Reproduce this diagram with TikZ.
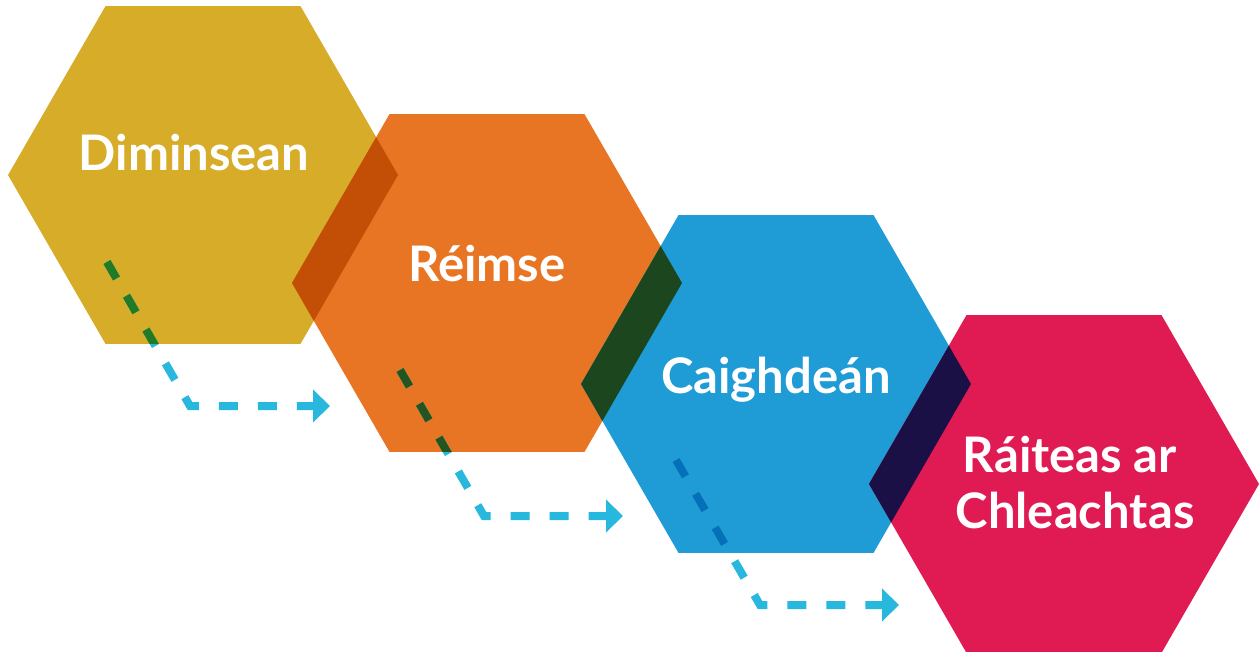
\documentclass[tikz,border=0pt]{standalone}
\usepackage{fontspec}
\setmainfont{Lato}
\usetikzlibrary{arrows.meta}
\definecolor{hexgold}{RGB}{214,172,41}
\definecolor{hexorange}{RGB}{232,117,36}
\definecolor{hexblue}{RGB}{31,155,214}
\definecolor{hexred}{RGB}{224,27,84}
\definecolor{ovgo}{RGB}{195,79,6}
\definecolor{ovob}{RGB}{28,71,30}
\definecolor{ovbr}{RGB}{27,16,70}
\definecolor{flowcyan}{RGB}{40,183,221}
\definecolor{flowgold}{RGB}{34,123,36}
\definecolor{floworange}{RGB}{36,84,31}
\definecolor{flowblue}{RGB}{5,111,186}
\newcommand{\hexa}[2]{(#1-195,#2)--++(97.5,-168.9)--++(195,0)--++(97.5,168.9)--++(-97.5,168.9)--++(-195,0)--cycle}
\begin{document}
\begin{tikzpicture}[x=1pt,y=-1pt,
 flow/.style={line width=8pt,dash pattern=on 19pt off 20pt},
 lbl/.style={text=white,font=\fontsize{49}{56}\selectfont\bfseries,anchor=base,inner sep=0pt}]
\useasboundingbox (0,0) rectangle (1259,652);
\fill[hexgold]\hexa{203}{175};
\fill[hexorange]\hexa{487}{283};
\fill[hexblue]\hexa{776}{384};
\fill[hexred]\hexa{1064}{484};
\begin{scope}\clip\hexa{203}{175};\fill[ovgo]\hexa{487}{283};\end{scope}
\begin{scope}\clip\hexa{487}{283};\fill[ovob]\hexa{776}{384};\end{scope}
\begin{scope}\clip\hexa{776}{384};\fill[ovbr]\hexa{1064}{484};\end{scope}
% flow arrows
\coordinate (a1s) at (107,262);\coordinate (a1c) at (190,406);\coordinate (a1e) at (330,406);
\coordinate (a2s) at (400,370);\coordinate (a2c) at (484,516);\coordinate (a2e) at (623,516);
\coordinate (a3s) at (676,460);\coordinate (a3c) at (760,605);\coordinate (a3e) at (899,605);
\draw[flow,flowcyan,-{Triangle[length=17pt,width=32pt]}](a1s)--(a1c)--(a1e);
\draw[flow,flowcyan,-{Triangle[length=17pt,width=32pt]}](a2s)--(a2c)--(a2e);
\draw[flow,flowcyan,-{Triangle[length=17pt,width=32pt]}](a3s)--(a3c)--(a3e);
\begin{scope}\clip\hexa{203}{175};\draw[flow,flowgold](a1s)--(a1c)--(a1e);\end{scope}
\begin{scope}\clip\hexa{487}{283};\draw[flow,floworange](a2s)--(a2c)--(a2e);\end{scope}
\begin{scope}\clip\hexa{776}{384};\draw[flow,flowblue](a3s)--(a3c)--(a3e);\end{scope}
% labels
\node[lbl](dim) at (194,171){Diminsean};
\node[lbl](reim) at (487,282){Réimse};
\node[lbl](caig) at (776,394){Caighdeán};
\node[lbl](rait) at (1070,472){Ráiteas ar};
\node[lbl](chle) at (1075,528){Chleachtas};
\end{tikzpicture}
\end{document}
